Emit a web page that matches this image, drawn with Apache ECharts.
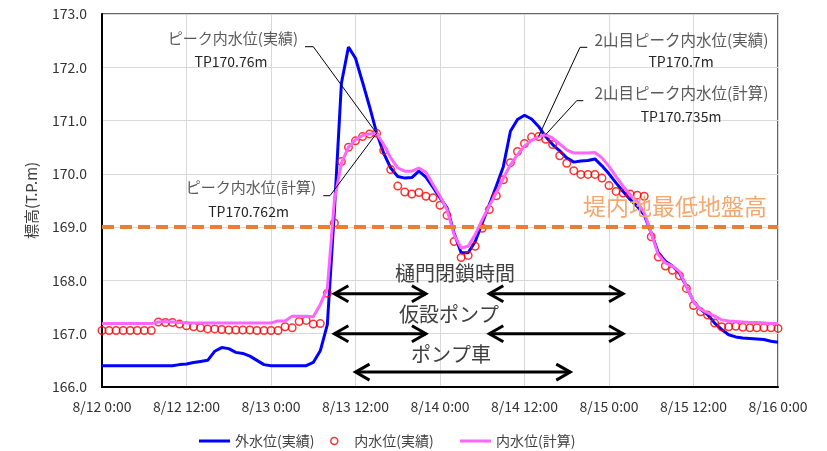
<!DOCTYPE html>
<html><head><meta charset="utf-8">
<script src="https://cdn.jsdelivr.net/npm/echarts@6/dist/echarts.min.js"></script>
<style>html,body{margin:0;padding:0;background:#fff}#c{width:827px;height:451px}</style>
</head><body><div id="c"></div>
<script>
// ---- data (hourly, 8/12 0:00 = hour 0 ... 8/16 0:00 = hour 96) ----
const xTickLabels = ['8/12 0:00','8/12 12:00','8/13 0:00','8/13 12:00','8/14 0:00','8/14 12:00','8/15 0:00','8/15 12:00','8/16 0:00'];
const yTicks = [166,167,168,169,170,171,172,173];
const seriesNames = ['外水位(実績)','内水位(実績)','内水位(計算)'];

const outerActual = [
166.40,166.40,166.40,166.40,166.40,166.40,166.40,166.40,166.40,166.40,166.40,
166.42,166.43,166.46,166.48,166.50,166.67,166.74,166.72,166.65,166.63,166.58,166.50,166.42,
166.40,166.40,166.40,166.40,166.40,166.40,
166.46,166.68,167.17,169.30,171.70,172.38,172.17,171.72,171.26,170.77,
170.39,170.11,169.95,169.92,169.93,170.05,169.94,169.75,169.55,169.36,
168.89,168.52,168.52,168.73,169.08,169.42,169.77,170.14,170.80,171.02,
171.10,171.03,170.89,170.70,170.55,170.43,170.30,170.22,170.24,170.25,
170.28,170.15,170.00,169.83,169.67,169.52,169.39,169.23,168.89,168.52,
168.36,168.27,168.14,167.89,167.60,167.46,167.36,167.20,167.08,166.98,
166.94,166.92,166.91,166.90,166.89,166.86,166.84];

const innerActual = [
167.06,167.06,167.06,167.06,167.06,167.06,167.06,167.06,
167.22,167.21,167.21,167.18,167.15,167.13,167.11,167.09,167.09,167.08,
167.07,167.07,167.07,167.07,167.06,167.06,167.06,167.06,167.13,167.11,
167.23,167.25,167.18,167.19,167.76,169.08,170.23,170.50,170.62,170.70,
170.75,170.76,170.44,170.08,169.77,169.66,169.62,169.65,169.58,169.55,
169.41,169.22,168.73,168.43,168.47,168.64,168.98,169.33,169.59,169.89,
170.21,170.42,170.57,170.69,170.70,170.65,170.55,170.34,170.20,170.06,
169.99,169.99,169.99,169.92,169.78,169.67,169.64,169.62,169.60,169.58,
168.82,168.44,168.27,168.19,168.09,167.85,167.53,167.41,167.35,167.20,
167.13,167.13,167.14,167.12,167.11,167.11,167.11,167.11,167.10];

const innerCalc = [
167.19,167.19,167.19,167.19,167.19,167.19,167.19,167.19,
167.22,167.23,167.22,167.21,
167.20,167.20,167.20,167.20,167.20,167.20,167.20,167.20,167.20,167.20,167.20,167.20,
167.20,167.24,167.24,167.33,167.33,167.33,167.32,167.55,167.85,169.50,
170.20,170.50,170.64,170.72,170.75,170.762,170.55,170.30,170.11,170.05,
170.05,170.11,170.03,169.80,169.58,169.33,168.86,168.61,168.64,168.86,
169.14,169.40,169.65,169.92,170.17,170.36,170.52,170.63,170.70,170.735,
170.67,170.56,170.45,170.39,170.39,170.39,170.40,170.30,170.14,169.95,
169.77,169.61,169.48,169.27,168.89,168.48,168.33,168.27,168.17,167.89,
167.60,167.46,167.39,167.33,167.26,167.24,167.23,167.22,167.21,167.21,
167.20,167.19,167.19];

const groundLevel = 169.0;
const groundLabel = '堤内地最低地盤高';

// operation periods (hours from 8/12 0:00)
const gateClosed = [[33,46],[55,74]];
const tempPump = [[33,46],[55,74]];
const pumpCar = [[36,66.5]];
const opLabels = ['樋門閉鎖時間','仮設ポンプ','ポンプ車'];

// peak annotations [hour, value]
const peak1Actual = [39,170.76], peak1Calc = [39,170.762];
const peak2Actual = [62,170.70], peak2Calc = [63,170.735];
const peakTexts = [
  ['ピーク内水位(実績)','TP170.76m'],
  ['ピーク内水位(計算)','TP170.762m'],
  ['2山目ピーク内水位(実績)','TP170.7m'],
  ['2山目ピーク内水位(計算)','TP170.735m']
];

// ---- chart ----
const toXY = arr => arr.map((v,i)=>[i,v]);
const JP = '"Noto Sans CJK JP","Noto Sans",sans-serif';

const chart = echarts.init(document.getElementById('c'));
const legendText = {color:'#404040',fontSize:14,fontFamily:JP};
const option = {
  animation:false,
  backgroundColor:'#fff',
  textStyle:{fontFamily:JP},
  grid:{left:102,right:49,top:14,bottom:64,show:true,borderColor:'#333',borderWidth:1.5,backgroundColor:'transparent'},
  xAxis:{type:'value',min:0,max:96,interval:12,
    axisLine:{show:true,lineStyle:{color:'#000',width:2}},
    axisTick:{show:false},
    splitLine:{show:true,lineStyle:{color:'#D9D9D9',width:1}},
    axisLabel:{color:'#333',fontSize:14,margin:13,fontFamily:JP,
      formatter:v=>xTickLabels[Math.round(v/12)]}},
  yAxis:{type:'value',min:yTicks[0],max:yTicks[yTicks.length-1],interval:1,
    name:'標高(T.P.m)',nameLocation:'middle',nameGap:63,nameRotate:90,
    nameTextStyle:{color:'#404040',fontSize:15,fontFamily:JP},
    axisLine:{show:true,lineStyle:{color:'#000',width:2}},
    axisTick:{show:false},
    splitLine:{show:true,lineStyle:{color:'#D9D9D9',width:1}},
    axisLabel:{color:'#333',fontSize:14,margin:15,fontFamily:JP,formatter:v=>v.toFixed(1)}},
  legend:[
    {data:[{name:seriesNames[0],icon:'rect'}],left:194,top:429,itemWidth:31,itemHeight:3,textStyle:legendText},
    {data:[{name:seriesNames[1],icon:'circle'}],left:325,top:429,itemWidth:30,itemHeight:7,symbolKeepAspect:true,
      itemStyle:{color:'rgba(255,255,255,0)',borderColor:'#FF0000',borderWidth:1.5},textStyle:legendText},
    {data:[{name:seriesNames[2],icon:'rect'}],left:455,top:429,itemWidth:31,itemHeight:3,textStyle:legendText}
  ],
  series:[
    {type:'line',name:'ground',data:[],z:1,silent:true,
     markLine:{silent:true,symbol:['none','none'],label:{show:false},
       lineStyle:{color:'#ED7D31',width:4,type:[12,6]},
       data:[{yAxis:groundLevel}]}},
    {type:'line',name:seriesNames[0],data:toXY(outerActual),symbol:'none',showSymbol:false,z:2,
     lineStyle:{color:'#0000FF',width:3},itemStyle:{color:'#0000FF'}},
    {type:'scatter',name:seriesNames[1],data:toXY(innerActual),symbol:'circle',symbolSize:7.5,z:3,
     itemStyle:{color:'rgba(255,255,255,0)',borderColor:'#FF0000',borderWidth:1.5}},
    {type:'line',name:seriesNames[2],data:toXY(innerCalc),symbol:'none',showSymbol:false,z:4,
     lineStyle:{color:'#FF66FF',width:3},itemStyle:{color:'#FF66FF'}}
  ]
};
chart.setOption(option);

// ---- annotations drawn through the chart's own scales ----
const px = (h,v)=>chart.convertToPixel({gridIndex:0},[h,v]);
const g = [];
function arrowRow(periods, level){
  periods.forEach(([a,b])=>{
    const p1 = px(a,level), p2 = px(b,level);
    g.push({type:'polyline',shape:{points:[p1,p2]},style:{stroke:'#000',lineWidth:3,fill:null},z:50});
    g.push({type:'polyline',shape:{points:[[p1[0]+14,p1[1]-8],p1,[p1[0]+14,p1[1]+8]]},style:{stroke:'#000',lineWidth:3,fill:null,lineJoin:'miter'},z:50});
    g.push({type:'polyline',shape:{points:[[p2[0]-14,p2[1]-8],p2,[p2[0]-14,p2[1]+8]]},style:{stroke:'#000',lineWidth:3,fill:null,lineJoin:'miter'},z:50});
  });
}
arrowRow(gateClosed,167.75);
arrowRow(tempPump,167.0);
arrowRow(pumpCar,166.28);

function txt(t,x,y,size,color,align){
  g.push({type:'text',x:x,y:y,z:60,style:{text:t,font:size+'px '+JP,fill:color,
    textAlign:align||'center',align:align||'center',textVerticalAlign:'middle',verticalAlign:'middle'}});
}
// operation labels
const r1 = px(0,167.75)[1], r2 = px(0,167.0)[1], r3 = px(0,166.28)[1];
txt(opLabels[0],455,r1-20,20,'#404040');
txt(opLabels[1],449,r2-19,20,'#404040');
txt(opLabels[2],451,r3-18,20,'#404040');
// ground label
txt(groundLabel,675,px(0,groundLevel)[1]-21,23,'#F3A872');

// leader lines
function leader(pts){g.push({type:'polyline',shape:{points:pts},style:{stroke:'#000',lineWidth:1,fill:null},z:55});}
leader([[305,46.7],[313.3,46.7],px(peak1Actual[0],peak1Actual[1])]);
leader([[323.3,195.7],[330,195.7],px(peak1Calc[0],peak1Calc[1])]);
leader([[587.3,47.3],[580,47.3],px(peak2Actual[0],peak2Actual[1])]);
leader([[583.3,100.7],[576.7,100.7],px(peak2Calc[0],peak2Calc[1])]);

txt(peakTexts[0][0],298,38.5,15,'#595959','right');
txt(peakTexts[0][1],231,61.5,14,'#262626');
txt(peakTexts[1][0],316,187.5,15,'#595959','right');
txt(peakTexts[1][1],248.5,211.5,14,'#262626');
txt(peakTexts[2][0],681.5,40,15.5,'#595959');
txt(peakTexts[2][1],681,61.5,14,'#262626');
txt(peakTexts[3][0],681.5,93.5,15.5,'#595959');
txt(peakTexts[3][1],681,116.5,14,'#262626');

chart.setOption({graphic:g});
</script></body></html>
